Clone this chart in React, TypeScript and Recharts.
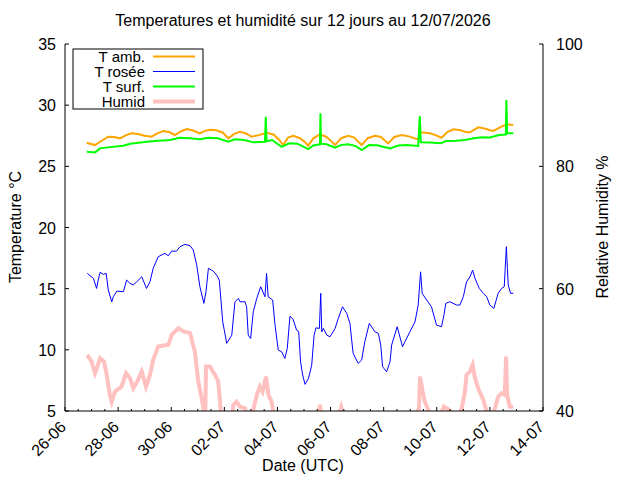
import { LineChart, Line, XAxis, YAxis } from 'recharts'

// x values are days since 26-06 00:00 UTC
const DATE_LABELS = ['26-06', '28-06', '30-06', '02-07', '04-07', '06-07', '08-07', '10-07', '12-07', '14-07']
const X_TICKS = Array.from({ length: 37 }, (_, i) => i / 2)
const TEMP_TICKS = [5, 10, 15, 20, 25, 30, 35]
const HUMID_TICKS = [40, 60, 80, 100]

const T_AMB: [number, number][] = [
  [0.82, 26.93], [0.95, 26.85], [1.13, 26.74], [1.35, 27.05], [1.63, 27.42], [1.85, 27.4],
  [2.07, 27.29], [2.3, 27.55], [2.51, 27.7], [2.75, 27.65], [3.0, 27.5], [3.26, 27.42],
  [3.48, 27.7], [3.7, 27.89], [3.92, 27.8], [4.14, 27.56], [4.36, 27.85], [4.58, 28.05],
  [4.8, 27.95], [5.08, 27.7], [5.27, 27.9], [5.46, 27.99], [5.7, 27.95], [5.95, 27.75],
  [6.15, 27.29], [6.37, 27.65], [6.59, 27.83], [6.8, 27.7], [7.03, 27.42], [7.3, 27.55],
  [7.59, 27.75], [7.85, 27.6], [8.05, 27.2], [8.22, 26.74], [8.4, 27.35], [8.6, 27.5],
  [8.85, 27.3], [9.05, 26.95], [9.16, 26.69], [9.35, 27.29], [9.6, 27.62], [9.85, 27.4],
  [10.05, 27.0], [10.17, 26.74], [10.4, 27.3], [10.67, 27.5], [10.9, 27.35], [11.05, 27.0],
  [11.17, 26.74], [11.4, 27.3], [11.67, 27.5], [11.9, 27.4], [12.05, 27.1], [12.17, 26.88],
  [12.4, 27.4], [12.68, 27.56], [12.95, 27.45], [13.3, 27.2], [13.38, 27.78], [13.74, 27.7],
  [13.95, 27.55], [14.18, 27.34], [14.4, 27.8], [14.62, 28.03], [14.9, 27.95], [15.1, 27.8],
  [15.25, 27.78], [15.56, 28.19], [15.8, 28.1], [16.0, 27.95], [16.13, 27.89], [16.4, 28.2],
  [16.63, 28.43], [16.88, 28.38],
]

const T_ROSEE: [number, number][] = [
  [0.84, 16.25], [1.07, 15.84], [1.19, 15.02], [1.25, 15.7], [1.32, 16.33], [1.45, 16.17],
  [1.55, 16.25], [1.63, 14.89], [1.76, 13.93], [1.82, 14.34], [1.95, 14.8], [2.2, 14.75],
  [2.32, 15.7], [2.45, 15.43], [2.57, 15.3], [2.7, 15.56], [2.89, 15.97], [3.07, 15.02],
  [3.2, 15.56], [3.32, 16.66], [3.51, 17.61], [3.76, 17.89], [3.89, 17.69], [4.02, 18.07],
  [4.2, 18.07], [4.33, 18.43], [4.52, 18.62], [4.71, 18.51], [4.83, 18.16], [4.96, 16.93],
  [5.08, 15.16], [5.23, 13.8], [5.31, 14.75], [5.4, 16.66], [5.58, 16.44], [5.71, 16.11],
  [5.81, 15.7], [5.94, 12.29], [6.09, 10.53], [6.28, 11.2], [6.4, 13.93], [6.53, 14.2],
  [6.59, 13.93], [6.78, 13.93], [6.84, 13.52], [6.9, 11.2], [6.99, 10.93], [7.09, 13.11],
  [7.22, 14.2], [7.37, 15.16], [7.53, 14.34], [7.59, 16.25], [7.65, 14.34], [7.82, 14.07],
  [7.91, 12.02], [8.03, 9.98], [8.16, 9.84], [8.28, 9.3], [8.37, 10.11], [8.47, 12.75],
  [8.59, 12.5], [8.72, 11.61], [8.8, 11.5], [8.87, 9.02], [8.95, 7.94], [9.04, 7.18],
  [9.17, 7.67], [9.29, 8.75], [9.38, 11.2], [9.45, 11.8], [9.58, 11.75], [9.63, 14.62],
  [9.67, 11.48], [9.73, 11.75], [9.86, 11.2], [9.98, 11.07], [10.17, 11.75], [10.29, 12.57],
  [10.45, 13.52], [10.61, 12.98], [10.73, 12.16], [10.85, 9.71], [11.04, 8.89], [11.17, 9.16],
  [11.29, 10.66], [11.46, 12.16], [11.67, 11.48], [11.8, 11.34], [11.89, 10.39], [11.96, 8.62],
  [12.11, 8.21], [12.24, 9.02], [12.3, 10.39], [12.51, 11.89], [12.71, 10.25], [12.8, 10.66],
  [12.99, 11.48], [13.18, 12.29], [13.3, 13.66], [13.39, 16.38], [13.45, 14.62], [13.62, 14.07],
  [13.8, 13.52], [13.99, 12.02], [14.18, 11.89], [14.27, 12.84], [14.34, 13.8], [14.49, 13.93],
  [14.75, 13.66], [14.87, 13.66], [15.0, 14.34], [15.12, 15.56], [15.25, 15.97], [15.35, 16.52],
  [15.44, 15.84], [15.6, 15.02], [15.75, 14.62], [15.88, 14.34], [16.0, 13.66], [16.15, 13.39],
  [16.31, 14.62], [16.44, 15.02], [16.54, 15.16], [16.62, 18.43], [16.66, 16.66], [16.69, 15.3],
  [16.78, 14.62], [16.88, 14.62],
]

const T_SURF: [number, number][] = [
  [0.82, 26.19], [1.13, 26.14], [1.32, 26.47], [1.6, 26.55], [2.2, 26.69], [2.45, 26.85],
  [3.08, 27.01], [3.5, 27.1], [3.95, 27.15], [4.33, 27.34], [4.7, 27.3], [5.08, 27.21],
  [5.4, 27.34], [5.75, 27.3], [6.15, 27.01], [6.4, 27.21], [6.75, 27.15], [7.09, 26.96],
  [7.53, 27.01], [7.56, 29.06], [7.59, 27.05], [7.8, 27.15], [8.16, 26.6], [8.45, 26.88],
  [8.75, 26.85], [9.16, 26.41], [9.35, 26.7], [9.6, 26.8], [9.62, 29.33], [9.64, 26.85],
  [9.85, 26.8], [10.17, 26.52], [10.4, 26.75], [10.67, 26.8], [10.95, 26.65], [11.17, 26.33],
  [11.45, 26.74], [11.75, 26.72], [12.24, 26.47], [12.55, 26.7], [12.85, 26.74], [13.3, 26.66],
  [13.36, 29.1], [13.4, 26.96], [13.75, 26.95], [14.15, 26.88], [14.34, 27.07], [14.7, 27.1],
  [15.05, 27.15], [15.4, 27.3], [15.7, 27.37], [16.0, 27.35], [16.35, 27.56], [16.6, 27.6],
  [16.62, 30.42], [16.65, 27.7], [16.88, 27.7],
]

const HUMID: [number, number][] = [
  [0.84, 49.18], [1.0, 48.08], [1.13, 46.18], [1.22, 47.26], [1.32, 48.64], [1.47, 48.08],
  [1.57, 45.9], [1.69, 42.62], [1.76, 41.52], [1.88, 43.16], [2.13, 43.98], [2.3, 46.18],
  [2.45, 45.36], [2.57, 43.72], [2.72, 44.8], [2.89, 46.44], [3.05, 43.98], [3.2, 45.9],
  [3.32, 48.36], [3.51, 50.54], [3.89, 50.82], [4.02, 52.46], [4.27, 53.56], [4.46, 53.0],
  [4.71, 52.74], [4.89, 49.72], [5.02, 44.8], [5.2, 40.98], [5.27, 36.0], [5.31, 47.26],
  [5.46, 47.26], [5.65, 45.9], [5.77, 44.8], [5.84, 41.52], [5.9, 37.0], [6.0, 35.0],
  [6.2, 36.0], [6.34, 40.98], [6.46, 41.52], [6.59, 40.7], [6.78, 40.44], [6.9, 38.0],
  [7.0, 38.5], [7.22, 42.62], [7.34, 43.98], [7.44, 43.16], [7.57, 45.62], [7.66, 42.62],
  [7.78, 41.52], [7.91, 38.0], [8.1, 34.0], [8.4, 36.0], [8.8, 35.0], [9.0, 31.0],
  [9.3, 34.0], [9.5, 38.0], [9.6, 41.0], [9.7, 38.0], [10.0, 37.0], [10.3, 39.0],
  [10.4, 40.6], [10.5, 39.0], [10.9, 34.0], [11.2, 35.0], [11.5, 38.0], [11.9, 34.0],
  [12.2, 33.0], [12.6, 37.0], [13.0, 37.0], [13.25, 39.5], [13.33, 40.44], [13.37, 45.62],
  [13.47, 43.16], [13.55, 41.52], [13.67, 40.3], [13.8, 39.0], [14.0, 38.0], [14.27, 40.7],
  [14.43, 40.3], [14.6, 39.5], [14.85, 39.5], [14.94, 40.4], [15.06, 43.16], [15.12, 45.9],
  [15.25, 46.44], [15.35, 47.54], [15.44, 45.36], [15.56, 43.72], [15.75, 41.8], [15.94, 39.0],
  [16.1, 39.5], [16.19, 40.44], [16.31, 42.34], [16.44, 42.9], [16.56, 42.62], [16.61, 48.9],
  [16.65, 42.62], [16.75, 40.7], [16.88, 40.7],
]

const SERIES = [
  { name: 'T amb.', points: T_AMB, color: '#ffa500', width: 2, axis: 'temp' },
  { name: 'T rosée', points: T_ROSEE, color: '#0000ff', width: 1, axis: 'temp' },
  { name: 'T surf.', points: T_SURF, color: '#00ff00', width: 2, axis: 'temp' },
  { name: 'Humid', points: HUMID, color: '#ffc0c0', width: 4, axis: 'hum' },
]

const FONT = '"Liberation Sans", Arial, sans-serif'

const toRows = (points: [number, number][]) => points.map(([t, v]) => ({ t, v }))

const BottomTick = ({ x, y, payload }: any) => {
  const t = payload.value
  const major = t % 2 === 0
  return (
    <g>
      <line x1={x} x2={x} y1={y} y2={y - (major ? 4 : 2)} stroke="#000" />
      {major && (
        <text
          x={x + 2}
          y={y + 17}
          transform={`rotate(-45 ${x + 2} ${y + 17})`}
          textAnchor="end"
          fontSize={16}
          fontFamily={FONT}
          fill="#000"
        >
          {DATE_LABELS[t / 2]}
        </text>
      )}
    </g>
  )
}

const TopTick = ({ x, y, payload }: any) => {
  const major = payload.value % 2 === 0
  return <line x1={x} x2={x} y1={y} y2={y + (major ? 4 : 2)} stroke="#000" />
}

const LeftTick = ({ x, y, payload }: any) => (
  <g>
    <line x1={x} x2={x + 4} y1={y} y2={y} stroke="#000" />
    <text x={x - 9} y={y + 6} textAnchor="end" fontSize={16} fontFamily={FONT} fill="#000">
      {payload.value}
    </text>
  </g>
)

const RightTick = ({ x, y, payload }: any) => (
  <g>
    <line x1={x} x2={x - 4} y1={y} y2={y} stroke="#000" />
    <text x={x + 13} y={y + 6} textAnchor="start" fontSize={16} fontFamily={FONT} fill="#000">
      {payload.value}
    </text>
  </g>
)

export default function App() {
  return (
    <div style={{ position: 'absolute', left: 0, top: 0, background: '#fff' }}>
      <LineChart width={640} height={480} margin={{ top: 44, right: 0, bottom: 0, left: 0 }}>
        <XAxis
          xAxisId="bottom"
          type="number"
          dataKey="t"
          domain={[0, 18]}
          ticks={X_TICKS}
          interval={0}
          height={69}
          tickSize={0}
          tickMargin={0}
          tickLine={false}
          axisLine={{ stroke: '#000' }}
          tick={<BottomTick />}
        />
        <XAxis
          xAxisId="top"
          orientation="top"
          type="number"
          dataKey="t"
          domain={[0, 18]}
          ticks={X_TICKS}
          interval={0}
          height={0}
          tickSize={0}
          tickMargin={0}
          tickLine={false}
          axisLine={{ stroke: '#000' }}
          tick={<TopTick />}
        />
        <YAxis
          yAxisId="temp"
          type="number"
          domain={[5, 35]}
          ticks={TEMP_TICKS}
          interval={0}
          width={65}
          tickSize={0}
          tickMargin={0}
          tickLine={false}
          axisLine={{ stroke: '#000' }}
          tick={<LeftTick />}
          allowDataOverflow
        />
        <YAxis
          yAxisId="hum"
          orientation="right"
          type="number"
          domain={[40, 100]}
          ticks={HUMID_TICKS}
          interval={0}
          width={97}
          tickSize={0}
          tickMargin={0}
          tickLine={false}
          axisLine={{ stroke: '#000' }}
          tick={<RightTick />}
          allowDataOverflow
        />
        {SERIES.map((s) => (
          <Line
            key={s.name}
            data={toRows(s.points)}
            dataKey="v"
            name={s.name}
            xAxisId="bottom"
            yAxisId={s.axis}
            type="linear"
            stroke={s.color}
            strokeWidth={s.width}
            strokeLinejoin="miter"
            dot={false}
            activeDot={false}
            isAnimationActive={false}
          />
        ))}

        <text x={303} y={26} textAnchor="middle" fontSize={16} fontFamily={FONT} fill="#000">
          Temperatures et humidité sur 12 jours au 12/07/2026
        </text>
        <text
          x={21}
          y={227}
          transform="rotate(-90 21 227)"
          textAnchor="middle"
          fontSize={16}
          fontFamily={FONT}
          fill="#000"
        >
          Temperature °C
        </text>
        <text
          x={608}
          y={227}
          transform="rotate(-90 608 227)"
          textAnchor="middle"
          fontSize={16}
          fontFamily={FONT}
          fill="#000"
        >
          Relative Humidity %
        </text>
        <text x={303} y={471} textAnchor="middle" fontSize={16} fontFamily={FONT} fill="#000">
          Date (UTC)
        </text>

        <g>
          <rect x={73} y={49} width={130} height={60} fill="#fff" stroke="#000" />
          {SERIES.map((s, i) => (
            <g key={s.name}>
              <text
                x={145}
                y={61.5 + i * 15}
                textAnchor="end"
                fontSize={15}
                fontFamily={FONT}
                fill="#000"
              >
                {s.name}
              </text>
              <line x1={153} x2={195} y1={56.5 + i * 15} y2={56.5 + i * 15} stroke={s.color} strokeWidth={s.width} />
            </g>
          ))}
        </g>
      </LineChart>
    </div>
  )
}
